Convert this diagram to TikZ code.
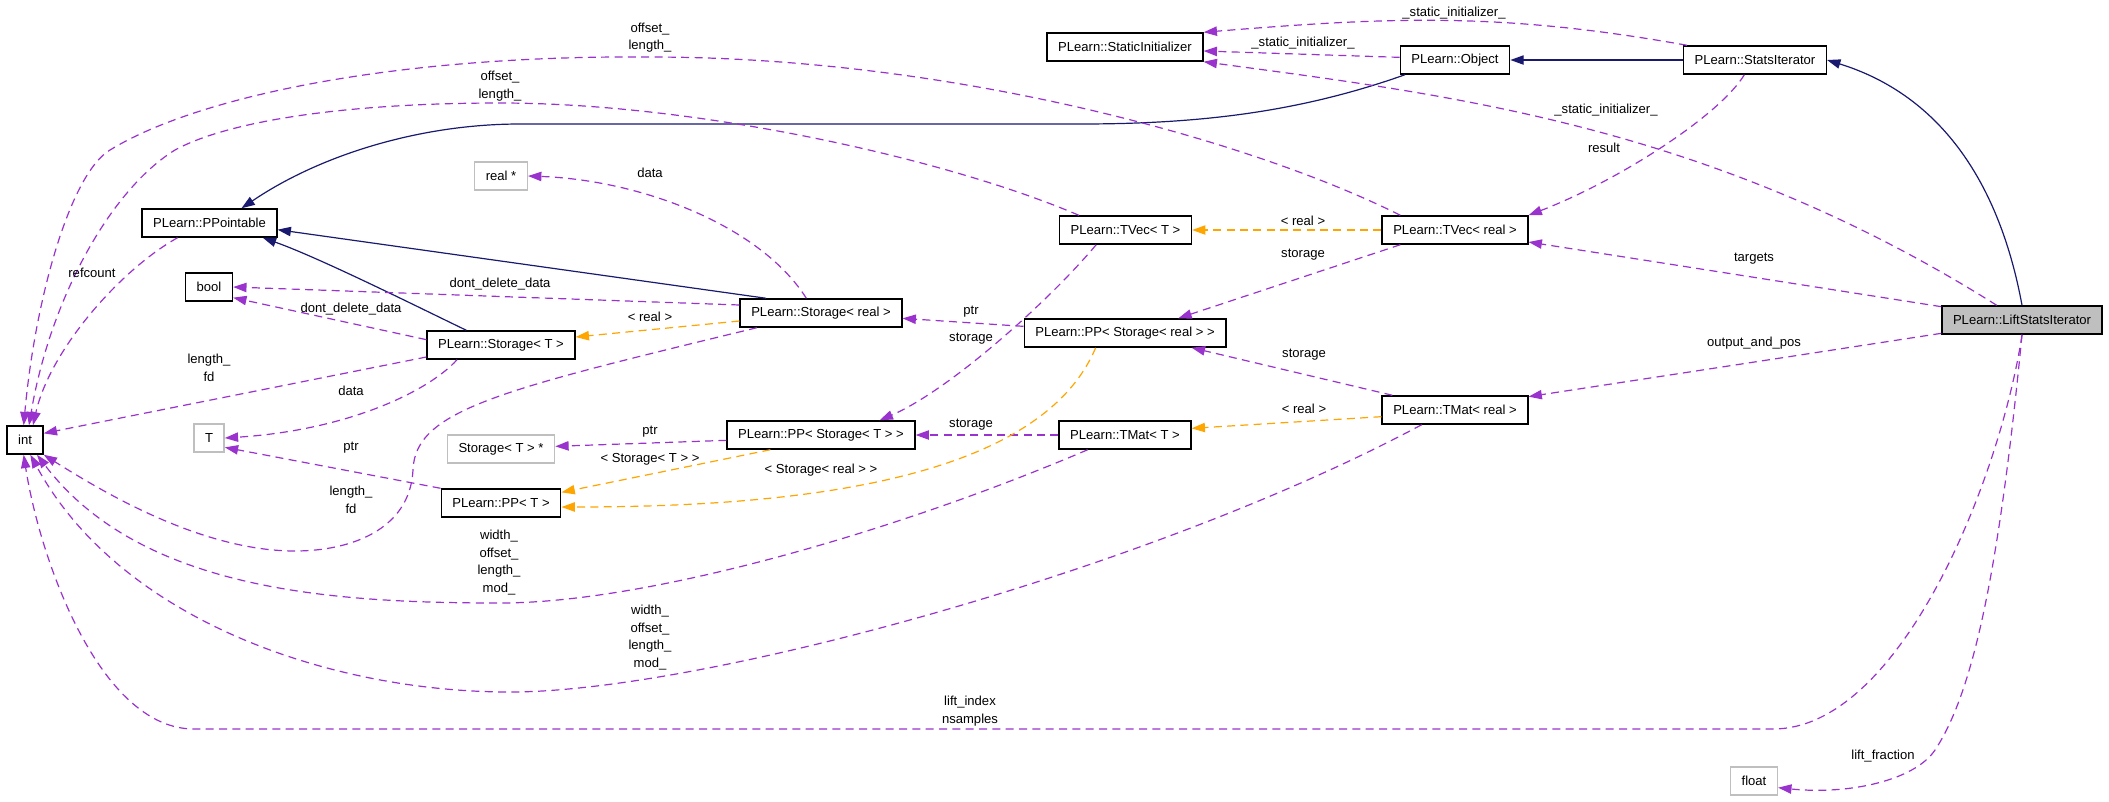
\documentclass[tikz,border=0pt]{standalone}
\usepackage{fontspec}
\setmainfont{Liberation Sans}
\usetikzlibrary{arrows.meta}
\definecolor{inhblue}{HTML}{191970}
\definecolor{usepurple}{HTML}{9A32CD}
\definecolor{tplorange}{HTML}{FFA500}
\definecolor{boxgray}{HTML}{BFBFBF}
\tikzset{
  cls/.style={draw=black, line width=1.1pt, rectangle, minimum height=21pt,
    inner xsep=8.3pt, inner ysep=0pt, font=\fontsize{9.8}{13.3}\selectfont},
  ext/.style={cls, draw=boxgray},
  cur/.style={cls, fill=boxgray},
  lbl/.style={inner sep=0pt, align=center, font=\fontsize{9.8}{13.3}\selectfont},
  arrowtip/.style={-{Triangle[length=10pt,width=7pt]}},
  inhedge/.style={arrowtip, inhblue, line width=0.9pt},
  useedge/.style={arrowtip, usepurple, line width=0.9pt, dash pattern=on 6pt off 4pt},
  tpledge/.style={arrowtip, tplorange, line width=0.9pt, dash pattern=on 6pt off 4pt}
}
\begin{document}
\begin{tikzpicture}[x=0.75pt, y=-0.75pt]
  \useasboundingbox (0,0) rectangle (2109,801);
  % classes
  \node[cur] (lsi) at (2022,320) {PLearn::LiftStatsIterator};
  \node[cls] (si) at (1755,60) {PLearn::StatsIterator};
  \node[cls] (obj) at (1455,60) {PLearn::Object};
  \node[cls] (sinit) at (1125,47) {PLearn::StaticInitializer};
  \node[cls] (ppable) at (209.5,223) {PLearn::PPointable};
  \node[ext] (realp) at (501,176) {real *};
  \node[cls] (tvect) at (1125.5,230) {PLearn::TVec< T >};
  \node[cls] (tvecr) at (1455,230) {PLearn::TVec< real >};
  \node[cls] (boolt) at (209,287) {bool};
  \node[cls] (storr) at (821,313) {PLearn::Storage< real >};
  \node[cls] (ppsr) at (1125,333) {PLearn::PP< Storage< real > >};
  \node[cls] (stort) at (501,345) {PLearn::Storage< T >};
  \node[cls] (tmatr) at (1455,410) {PLearn::TMat< real >};
  \node[cls] (intt) at (25,440) {int};
  \node[ext] (tt) at (209,438) {T};
  \node[ext] (stortp) at (501,449) {Storage< T > *};
  \node[cls] (ppst) at (821,435) {PLearn::PP< Storage< T > >};
  \node[cls] (tmatt) at (1125,435) {PLearn::TMat< T >};
  \node[cls] (ppt) at (501,503) {PLearn::PP< T >};
  \node[ext] (floatt) at (1754,781) {float};

  % inheritance
  \draw[inhedge] (si.west) -- (obj.east);
  \draw[inhedge] (lsi.north) .. controls (2000,186) and (1943,96) .. (si.east);
  \draw[inhedge] ([xshift=4pt]obj.south west) .. controls (1300,112) and (1200,124) .. (1080,124)
    -- (520,124) .. controls (420,124) and (320,155) .. ([xshift=24pt]ppable.north);
  \draw[inhedge] ([xshift=20pt]storr.north west) -- ([yshift=-5pt]ppable.east);
  \draw[inhedge] ([xshift=-26pt]stort.north) .. controls (420,308) and (320,258) .. ([xshift=40pt]ppable.south);

  % members
  \draw[useedge] ([xshift=3pt]si.north west) .. controls (1500,12) and (1391,17) .. (sinit.north east);
  \draw[useedge] ([yshift=2pt]obj.west) -- ([yshift=-3pt]sinit.east);
  \draw[useedge] ([xshift=-19pt]lsi.north) .. controls (1710,125) and (1450,95) .. (sinit.south east);
  \draw[useedge] ([xshift=-8pt]si.south) .. controls (1720,115) and (1620,180) .. (tvecr.north east);
  \draw[useedge] ([yshift=10pt]lsi.west) -- ([yshift=-9pt]tvecr.east);
  \draw[useedge] ([yshift=-10pt]lsi.west) -- ([yshift=10pt]tmatr.east);
  \draw[useedge] ([xshift=-41pt]tvecr.south) -- ([xshift=40pt]ppsr.north);
  \draw[useedge] ([xshift=-47pt]tmatr.north) -- ([xshift=50pt]ppsr.south);
  \draw[useedge] ([yshift=5pt]ppsr.west) -- ([yshift=-4pt]storr.east);
  \draw[useedge] ([yshift=-4pt]ppst.west) -- ([yshift=2pt]stortp.east);
  \draw[useedge] (tmatt.west) -- (ppst.east);
  \draw[useedge] ([xshift=-22pt]tvect.south) .. controls (1050,300) and (950,390) .. ([xshift=44pt]ppst.north);
  \draw[useedge] ([yshift=6pt]storr.west) -- (boolt.east);
  \draw[useedge] ([yshift=4pt]stort.west) -- ([yshift=-8pt]boolt.east);
  \draw[useedge] ([xshift=-11pt]storr.north) .. controls (760,225) and (640,180) .. (realp.east);
  \draw[useedge] ([xshift=-33pt]stort.south) .. controls (430,390) and (350,430) .. (tt.east);
  \draw[useedge] (ppt.north west) -- ([yshift=-7pt]tt.east);
  \draw[useedge] ([yshift=-9pt]stort.west) -- ([yshift=5pt]intt.east);
  \draw[useedge] ([xshift=-24pt]ppable.south) .. controls (120,270) and (50,350) .. ([xshift=6pt]intt.north);
  \draw[useedge] ([xshift=-41pt]tvecr.north) .. controls (1250,140) and (950,57) .. (650,57)
    .. controls (400,55) and (200,95) .. (110,150) .. controls (70,174) and (35,300) .. ([xshift=-1pt]intt.north);
  \draw[useedge] ([xshift=-35pt]tvect.north) .. controls (950,160) and (700,103) .. (500,103)
    .. controls (350,103) and (230,120) .. (175,150) .. controls (110,190) and (50,300) .. ([xshift=3pt]intt.north);
  \draw[useedge] ([xshift=13pt]storr.south west) .. controls (500,390) and (415,410) .. (413,470)
    .. controls (410,530) and (350,551) .. (295,551) .. controls (200,551) and (100,490) .. (intt.south east);
  \draw[useedge] ([xshift=-28pt]tmatt.south) .. controls (900,530) and (650,603) .. (500,603)
    .. controls (330,603) and (140,590) .. ([xshift=9pt]intt.south);
  \draw[useedge] ([xshift=-25pt]tmatr.south) .. controls (1150,570) and (700,692) .. (510,692)
    .. controls (330,692) and (120,620) .. ([xshift=4pt]intt.south);
  \draw[useedge] (lsi.south) .. controls (2000,480) and (1900,729) .. (1773,729) -- (194,729)
    .. controls (100,729) and (40,560) .. ([xshift=-1pt]intt.south);
  \draw[useedge] (lsi.south) .. controls (2000,560) and (1975,690) .. (1935,750)
    .. controls (1915,780) and (1850,795) .. ([yshift=-5pt]floatt.east);

  % template instances
  \draw[tpledge] (tvecr.west) -- (tvect.east);
  \draw[tpledge] ([yshift=-5pt]tmatr.west) -- ([yshift=5pt]tmatt.east);
  \draw[tpledge] ([yshift=-6pt]storr.west) -- ([yshift=6pt]stort.east);
  \draw[tpledge] ([xshift=-38pt]ppst.south) -- ([yshift=8pt]ppt.east);
  \draw[tpledge] ([xshift=-22pt]ppsr.south) .. controls (1040,480) and (800,507) .. ([yshift=-3pt]ppt.east);

  % edge labels
  \node[lbl] (lsinita) at (1454,13) {\_static\_initializer\_};
  \node[lbl] (lsinitb) at (1303,43) {\_static\_initializer\_};
  \node[lbl] (lsinitc) at (1606,110) {\_static\_initializer\_};
  \node[lbl] (loffa) at (650,37.5) {offset\_\\length\_};
  \node[lbl] (loffb) at (500,86) {offset\_\\length\_};
  \node[lbl] (ldataa) at (650,173) {data};
  \node[lbl] (lresult) at (1604,148) {result};
  \node[lbl] (lrefcount) at (92,273) {refcount};
  \node[lbl] (lreala) at (1303,221) {< real >};
  \node[lbl] (lstora) at (1303,255) {storage};
  \node[lbl] (ltargets) at (1754,259) {targets};
  \node[lbl] (ldonta) at (500,284) {dont\_delete\_data};
  \node[lbl] (ldontb) at (351,309) {dont\_delete\_data};
  \node[lbl] (lptra) at (971,312) {ptr};
  \node[lbl] (lrealb) at (650,317) {< real >};
  \node[lbl] (lstorb) at (971,339) {storage};
  \node[lbl] (loutpos) at (1754,343) {output\_and\_pos};
  \node[lbl] (lstorc) at (1304,355) {storage};
  \node[lbl] (llena) at (209,368) {length\_\\fd};
  \node[lbl] (ldatab) at (351,391) {data};
  \node[lbl] (lrealc) at (1304,409) {< real >};
  \node[lbl] (lstord) at (971,425) {storage};
  \node[lbl] (lptrb) at (650,432) {ptr};
  \node[lbl] (lptrc) at (351,448) {ptr};
  \node[lbl] (lstgt) at (650,459) {< Storage< T > >};
  \node[lbl] (lstgreal) at (821,470) {< Storage< real > >};
  \node[lbl] (llenb) at (351,499.5) {length\_\\fd};
  \node[lbl] (lwidtha) at (499,562.5) {width\_\\offset\_\\length\_\\mod\_};
  \node[lbl] (lwidthb) at (650,637.5) {width\_\\offset\_\\length\_\\mod\_};
  \node[lbl] (llift) at (970,711) {lift\_index\\nsamples};
  \node[lbl] (lfrac) at (1883,756) {lift\_fraction};
\end{tikzpicture}
\end{document}
